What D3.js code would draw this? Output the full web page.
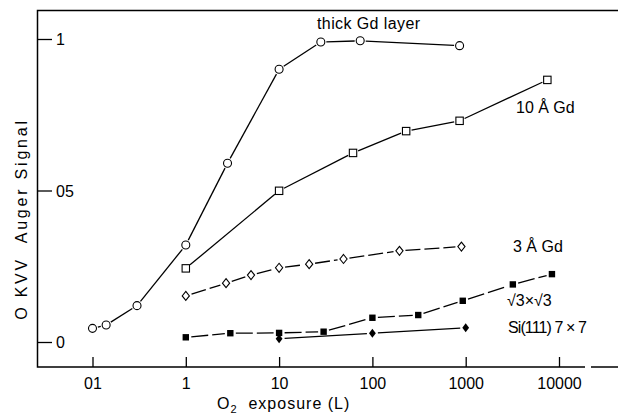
<!DOCTYPE html>
<html>
<head>
<meta charset="utf-8">
<script src="https://cdn.jsdelivr.net/npm/d3@7"></script>
<style>
  html, body { margin: 0; padding: 0; background: #fff; }
  svg { display: block; font-family: "Liberation Sans", Arial, sans-serif; }
</style>
</head>
<body>
<svg id="chart" width="618" height="418"></svg>
<script>
// ---- data ----
const thickX = [0.1, 0.14, 0.3, 1, 2.8, 10, 28, 74, 860];
const thickY = [0.045, 0.056, 0.12, 0.32, 0.59, 0.90, 0.99, 0.994, 0.978];

const gd10X = [1, 10, 62, 230, 860, 7500];
const gd10Y = [0.243, 0.499, 0.624, 0.696, 0.73, 0.865];

const gd3X = [1, 2.7, 5, 10, 21, 49, 195, 900];
const gd3Y = [0.152, 0.194, 0.221, 0.245, 0.257, 0.274, 0.301, 0.315];

const sqrtX = [1, 3, 10, 30, 100, 310, 930, 3200, 8400];
const sqrtY = [0.0155, 0.029, 0.030, 0.034, 0.080, 0.089, 0.136, 0.190, 0.224];

const si7X = [10, 100, 1000];
const si7Y = [0.011, 0.029, 0.047];

const xTicks = [0.1, 1, 10, 100, 1000, 10000];
const xTickLabels = ["01", "1", "10", "100", "1000", "10000"];
const yTicks = [0, 0.5, 1];
const yTickLabels = ["0", "05", "1"];

const seriesLabels = ["thick Gd layer", "10 Å Gd", "3 Å Gd", "√3×√3", "Si(111) 7 × 7"];
const xTitle = ["O", "2", "  exposure (L)"];
const yTitle = "O KVV  Auger Signal";

// ---- layout ----
const frame = { left: 37.5, top: 10.5, bottom: 367, right: 618 };
const svg = d3.select("#chart");

const x = d3.scaleLog().domain([0.1, 10000]).range([92.5, 559]);
const y = d3.scaleLinear().domain([0, 1]).range([342, 39]);

// frame lines (top border, left axis, bottom axis)
const fr = svg.append("g").attr("stroke", "#000").attr("stroke-width", 1.5).attr("fill", "none");
fr.append("path").attr("d", `M${frame.right},${frame.top}H${frame.left}V${frame.bottom}H585`);
fr.append("path").attr("d", `M591,${frame.bottom}H${frame.right}`);

// x axis ticks
const xAxis = d3.axisBottom(x).tickValues(xTicks).tickSizeInner(-10).tickSizeOuter(0)
  .tickFormat((d, i) => xTickLabels[i]);
const gx = svg.append("g").attr("transform", `translate(0,${frame.bottom})`).call(xAxis);
gx.select(".domain").remove();
gx.selectAll(".tick line").attr("stroke", "#000").attr("stroke-width", 1.3);
gx.selectAll(".tick text").attr("y", 22).attr("dy", 0).attr("fill", "#000")
  .attr("font-size", 16).attr("font-family", "Liberation Sans, Arial, sans-serif");

// y axis ticks
const yAxis = d3.axisLeft(y).tickValues(yTicks).tickSizeInner(-14.5).tickSizeOuter(0)
  .tickFormat((d, i) => yTickLabels[i]);
const gy = svg.append("g").attr("transform", `translate(${frame.left},0)`).call(yAxis);
gy.select(".domain").remove();
gy.selectAll(".tick line").attr("stroke", "#000").attr("stroke-width", 1.3);
gy.selectAll(".tick text").attr("x", 18.5).attr("dy", "0.36em").attr("text-anchor", "start")
  .attr("fill", "#000").attr("font-size", 16).attr("font-family", "Liberation Sans, Arial, sans-serif");

// ---- series drawing ----
function pts(xs, ys) { return xs.map((v, i) => [x(v), y(ys[i])]); }

function drawLine(p, gap, dash) {
  const g = svg.append("g").attr("stroke", "#000").attr("stroke-width", 1.3).attr("fill", "none");
  for (let i = 0; i < p.length - 1; i++) {
    const [x0, y0] = p[i], [x1, y1] = p[i + 1];
    const dx = x1 - x0, dy = y1 - y0, L = Math.hypot(dx, dy);
    if (L <= 2 * gap) continue;
    const ux = dx / L, uy = dy / L;
    g.append("line")
      .attr("x1", x0 + ux * gap).attr("y1", y0 + uy * gap)
      .attr("x2", x1 - ux * gap).attr("y2", y1 - uy * gap)
      .attr("stroke-dasharray", dash || null);
  }
}

function drawMarkers(p, type) {
  const g = svg.append("g");
  p.forEach(([cx, cy]) => {
    if (type === "circle") {
      g.append("circle").attr("cx", cx).attr("cy", cy).attr("r", 4)
        .attr("fill", "#fff").attr("stroke", "#000").attr("stroke-width", 1.1);
    } else if (type === "square") {
      g.append("rect").attr("x", cx - 3.7).attr("y", cy - 3.7).attr("width", 7.4).attr("height", 7.4)
        .attr("fill", "#fff").attr("stroke", "#000").attr("stroke-width", 1.1);
    } else if (type === "diamond") {
      g.append("path").attr("d", `M${cx},${cy - 4.5}L${cx + 3.6},${cy}L${cx},${cy + 4.5}L${cx - 3.6},${cy}Z`)
        .attr("fill", "#fff").attr("stroke", "#000").attr("stroke-width", 1.1);
    } else if (type === "fsquare") {
      g.append("rect").attr("x", cx - 3.2).attr("y", cy - 3.2).attr("width", 6.4).attr("height", 6.4)
        .attr("fill", "#000");
    } else if (type === "fdiamond") {
      g.append("path").attr("d", `M${cx},${cy - 4.5}L${cx + 3.4},${cy}L${cx},${cy + 4.5}L${cx - 3.4},${cy}Z`)
        .attr("fill", "#000");
    }
  });
}

const pThick = pts(thickX, thickY);
const p10 = pts(gd10X, gd10Y);
const p3 = pts(gd3X, gd3Y);
const pSq = pts(sqrtX, sqrtY);
const pSi = pts(si7X, si7Y);

drawLine(pThick, 5.5);
drawLine(p10, 5.5);
drawLine(p3, 6, "15,4");
drawLine(pSq, 5.5, "17,4");
drawLine(pSi, 5.5);

drawMarkers(pThick, "circle");
drawMarkers(p10, "square");
drawMarkers(p3, "diamond");
drawMarkers(pSq, "fsquare");
drawMarkers(pSi, "fdiamond");

// ---- series labels ----
const lab = svg.append("g").attr("fill", "#000").attr("font-size", 16);
lab.append("text").attr("x", 317).attr("y", 29).attr("letter-spacing", 0.4).text(seriesLabels[0]);
lab.append("text").attr("x", 516).attr("y", 113).text(seriesLabels[1]);
lab.append("text").attr("x", 513).attr("y", 252).text(seriesLabels[2]);
lab.append("text").attr("x", 507).attr("y", 306).text(seriesLabels[3]);
lab.append("text").attr("x", 508).attr("y", 333).attr("letter-spacing", -0.9).text(seriesLabels[4]);

// ---- axis titles ----
const xt = svg.append("text").attr("x", 217).attr("y", 409).attr("font-size", 16)
  .attr("letter-spacing", 1).attr("fill", "#000").style("white-space", "pre");
xt.append("tspan").text(xTitle[0]);
xt.append("tspan").attr("dy", 4).attr("font-size", 11).text(xTitle[1]);
xt.append("tspan").attr("dy", -4).text(xTitle[2]);

svg.append("text").attr("transform", "translate(27,219) rotate(-90)")
  .attr("text-anchor", "middle").attr("font-size", 16).attr("letter-spacing", 2.8)
  .attr("fill", "#000").style("white-space", "pre").text(yTitle);
</script>
</body>
</html>
